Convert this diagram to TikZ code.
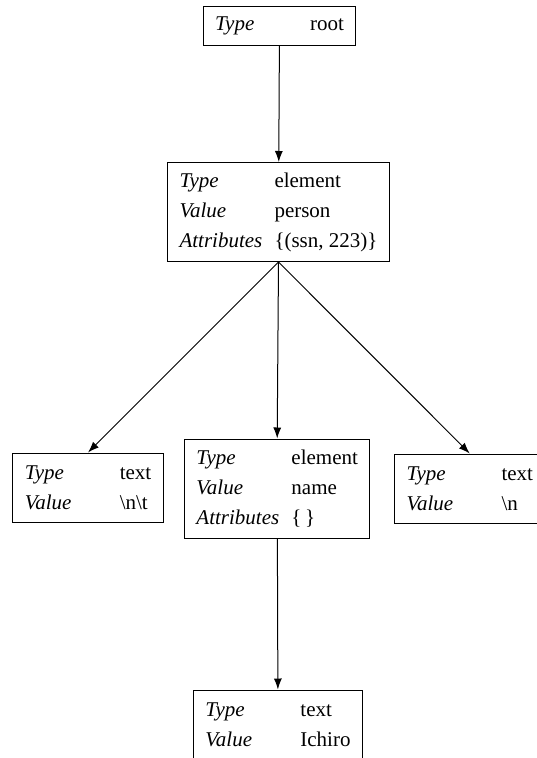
\documentclass[tikz,border=0pt]{standalone}
\usepackage{fontspec}
\setmainfont{Liberation Serif}
\usetikzlibrary{arrows.meta}

\newcommand{\fld}[2]{\makebox[95pt][l]{\textit{#1}}#2}

\tikzset{
  dombox/.style={draw, line width=1pt, align=left, inner xsep=12pt, inner ysep=2pt,
    font=\fontsize{21}{30}\selectfont},
  onerow/.style={dombox, minimum height=39pt},
  tworow/.style={dombox, minimum height=69pt},
  threerow/.style={dombox, minimum height=99pt},
  link/.style={-{Latex[length=11pt,width=8pt]}, line width=1pt}
}

\begin{document}
\begin{tikzpicture}[x=1pt,y=-1pt]
		\useasboundingbox (0,0) rectangle (537,758);
		\node [onerow] (root) at (279.5,25.5) {\fld{Type}{root}};
		\node [threerow] (person) at (278.5,212) {\fld{Type}{element}\\\fld{Value}{person}\\\fld{Attributes}{\{(ssn, 223)\}}};
		\node [tworow] (nt) at (88,487.5) {\fld{Type}{text}\\\fld{Value}{\textbackslash n\textbackslash t}};
		\node [threerow] (name) at (277.2,488.5) {\fld{Type}{element}\\\fld{Value}{name}\\\fld{Attributes}{\{\,\}}};
		\node [tworow, anchor=west] (n) at (394,488.5) {\fld{Type}{text}\\\fld{Value}{\textbackslash n}};
		\node [tworow] (ichiro) at (278,724.5) {\fld{Type}{text}\\\fld{Value}{Ichiro}};
		\draw [link] (root) -- (person);
		\draw [link] (person.south) -- (nt.north);
		\draw [link] (person.south) -- (name.north);
		\draw [link] (person.south) -- (n.north);
		\draw [link] (name) -- (ichiro);
	\end{tikzpicture}
\end{document}
